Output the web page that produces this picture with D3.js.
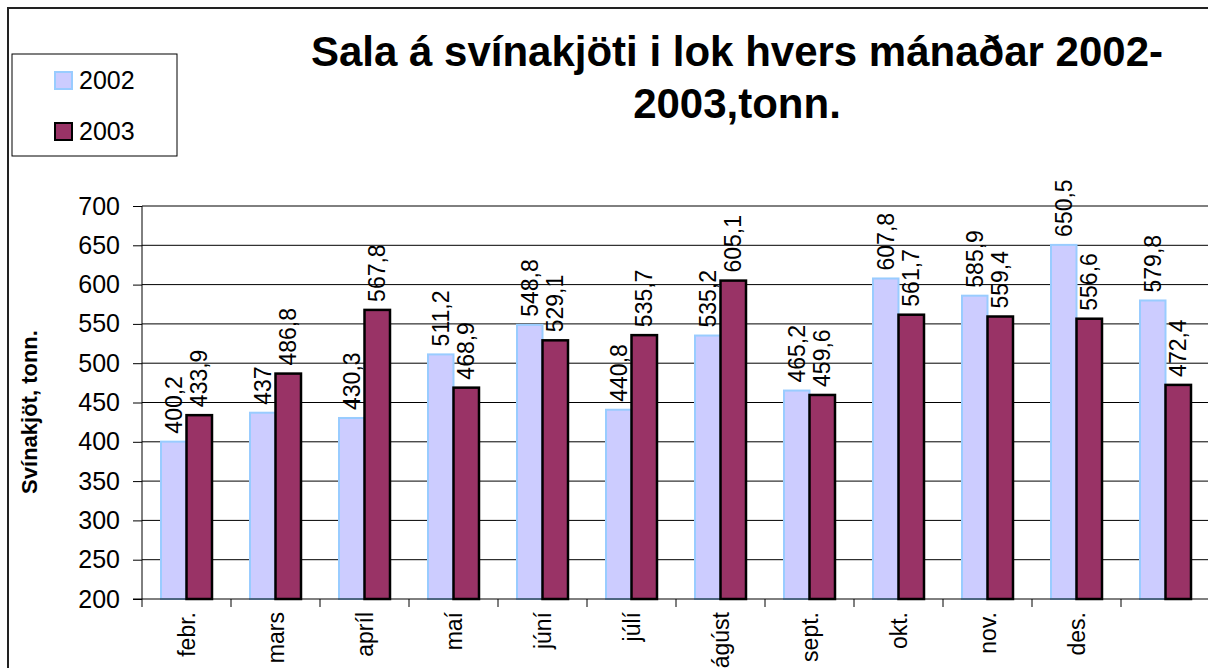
<!DOCTYPE html>
<html>
<head>
<meta charset="utf-8">
<script src="https://cdn.jsdelivr.net/npm/d3@7"></script>
<style>
	body { margin: 0; background: #fff; }
	svg { display: block; font-family: Arial, "Liberation Sans", sans-serif; }
</style>
</head>
<body>
<svg width="1208" height="668"></svg>
<script>
(function(){

	var months = ["febr.", "mars", "apríl", "maí", "júní", "júlí", "ágúst", "sept.", "okt.", "nov.", "des.", ""];
	var years = ["2002", "2003"];
	var sales2002 = [400.2, 437, 430.3, 511.2, 548.8, 440.8, 535.2, 465.2, 607.8, 585.9, 650.5, 579.8];
	var sales2003 = [433.9, 486.8, 567.8, 468.9, 529.1, 535.7, 605.1, 459.6, 561.7, 559.4, 556.6, 472.4];
	var yTicks = [200, 250, 300, 350, 400, 450, 500, 550, 600, 650, 700];

	var fills = {"2002": "#ccccff", "2003": "#993366"};
	var strokes = {"2002": "#99ccff", "2003": "#000000"};

	var svg = d3.select("svg");

	// outer chart border
	svg.append("rect")
		.attr("x", 8).attr("y", 8)
		.attr("width", 1300).attr("height", 700)
		.attr("fill", "none")
		.attr("stroke", "#222")
		.attr("stroke-width", 2);

	var left = 142, right = 1210, top = 206, bottom = 599;

	var x0 = d3.scaleBand().domain(d3.range(months.length)).range([left, right])
		.paddingInner(0.427).paddingOuter(0.2135);
	var x1 = d3.scaleBand().domain(years).range([0, x0.bandwidth()]);
	var y = d3.scaleLinear().domain([200, 700]).range([bottom, top]);

	// gridlines
	svg.append("g")
		.selectAll("line")
		.data(yTicks.slice(1))
		.enter().append("line")
			.attr("x1", left).attr("x2", right)
			.attr("y1", function(d){ return y(d); })
			.attr("y2", function(d){ return y(d); })
			.attr("stroke", "#000")
			.attr("stroke-width", 1);

	// y axis
	var yAxis = svg.append("g")
		.attr("transform", "translate(" + left + ",0)")
		.call(d3.axisLeft(y).tickValues(yTicks).tickSize(9).tickPadding(13).tickFormat(d3.format("d")));
	yAxis.select(".domain").attr("stroke", "#000").attr("d", "M0," + top + "V" + bottom);
	yAxis.selectAll(".tick line").attr("stroke", "#000");
	yAxis.selectAll("text")
		.style("font-size", "25px")
		.attr("fill", "#000");

	// data rows
	var rows = months.map(function(m, i){
		return {i: i, vals: [{year: "2002", v: sales2002[i]}, {year: "2003", v: sales2003[i]}]};
	});

	var groups = svg.append("g").selectAll("g")
		.data(rows)
		.enter().append("g")
			.attr("transform", function(d){ return "translate(" + x0(d.i) + ",0)"; });

	groups.selectAll("rect")
		.data(function(d){ return d.vals; })
		.enter().append("rect")
			.attr("x", function(d){ return x1(d.year); })
			.attr("y", function(d){ return y(d.v); })
			.attr("width", x1.bandwidth())
			.attr("height", function(d){ return bottom - y(d.v); })
			.attr("fill", function(d){ return fills[d.year]; })
			.attr("stroke", function(d){ return strokes[d.year]; })
			.attr("stroke-width", function(d){ return d.year == "2003" ? 2.5 : 2; });

	groups.selectAll("text")
		.data(function(d){ return d.vals; })
		.enter().append("text")
			.attr("transform", function(d){
				return "translate(" + (x1(d.year) + x1.bandwidth() / 2) + "," + (y(d.v) - 8) + ") rotate(-90)";
			})
			.attr("dy", "0.35em")
			.attr("text-anchor", "start")
			.style("font-size", "23px")
			.text(function(d){ return String(d.v).replace(".", ","); });

	// x axis line and ticks
	svg.append("line")
		.attr("x1", left - 9).attr("x2", right)
		.attr("y1", bottom).attr("y2", bottom)
		.attr("stroke", "#000");
	svg.append("g").selectAll("line")
		.data(d3.range(months.length + 1))
		.enter().append("line")
			.attr("x1", function(i){ return left + i * x0.step(); })
			.attr("x2", function(i){ return left + i * x0.step(); })
			.attr("y1", bottom).attr("y2", bottom + 8)
			.attr("stroke", "#000");

	// category labels
	svg.append("g").selectAll("text")
		.data(rows)
		.enter().append("text")
			.attr("transform", function(d){
				return "translate(" + (x0(d.i) + x0.bandwidth() / 2) + "," + (bottom + 13) + ") rotate(-90)";
			})
			.attr("dy", "0.35em")
			.attr("text-anchor", "end")
			.style("font-size", "23px")
			.text(function(d){ return months[d.i]; });

	// y axis title
	svg.append("text")
		.attr("transform", "translate(37,412) rotate(-90)")
		.attr("text-anchor", "middle")
		.style("font-size", "22px")
		.style("font-weight", "bold")
		.text("Svínakjöt, tonn.");

	// title
	var title = svg.append("text")
		.attr("text-anchor", "middle")
		.style("font-size", "42px")
		.style("font-weight", "bold");
	title.append("tspan").attr("x", 737).attr("y", 66).text("Sala á svínakjöti i lok hvers mánaðar 2002-");
	title.append("tspan").attr("x", 737).attr("y", 118).text("2003,tonn.");

	// legend
	var legend = svg.append("g");
	legend.append("rect")
		.attr("x", 12).attr("y", 54)
		.attr("width", 165).attr("height", 102)
		.attr("fill", "#fff")
		.attr("stroke", "#000")
		.attr("stroke-width", 1);
	var items = legend.selectAll("g.item")
		.data(years)
		.enter().append("g")
			.attr("class", "item")
			.attr("transform", function(d, i){ return "translate(55," + (72 + i * 51) + ")"; });
	items.append("rect")
		.attr("width", 17).attr("height", 17)
		.attr("fill", function(d){ return fills[d]; })
		.attr("stroke", function(d){ return strokes[d]; })
		.attr("stroke-width", 2);
	items.append("text")
		.attr("x", 24).attr("y", 17)
		.style("font-size", "25px")
		.text(function(d){ return d; });

})();
</script>
</body>
</html>
